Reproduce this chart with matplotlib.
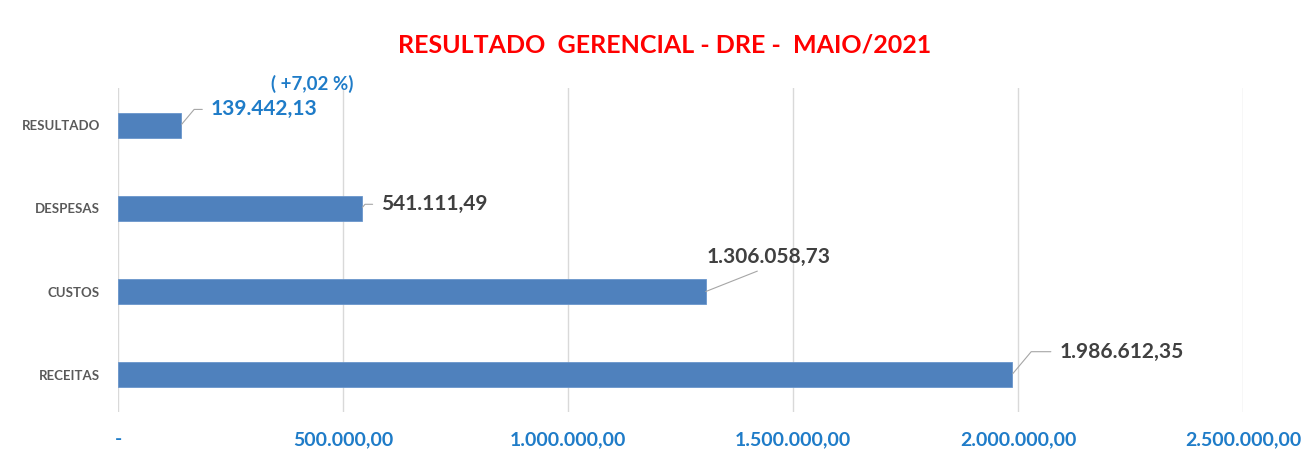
import matplotlib
matplotlib.use('Agg')
import matplotlib.pyplot as plt
from matplotlib.ticker import FuncFormatter

categories = ['RECEITAS', 'CUSTOS', 'DESPESAS', 'RESULTADO']
values = [1986612.35, 1306058.73, 541111.49, 139442.13]
value_labels = ['1.986.612,35', '1.306.058,73', '541.111,49', '139.442,13']
label_colors = ['#404040', '#404040', '#404040', '#1F7CC8']
percent_note = '( +7,02 %)'
xticks = [0, 500000, 1000000, 1500000, 2000000, 2500000]

# label offsets in points from bar end
label_offsets = [(34, 16.5), (45, 25), (14, 3), (21.5, 11.5)]


def br_fmt(v, pos=None):
    if v == 0:
        return '-'
    s = f'{v:,.2f}'
    return s.replace(',', 'X').replace('.', ',').replace('X', '.')


plt.rcParams['font.family'] = ['Lato', 'DejaVu Sans']

fig = plt.figure(figsize=(13.11, 4.54), dpi=100)
ax = fig.add_axes([118 / 1311, 42 / 454, 1125 / 1311, 324 / 454])

y = list(range(len(categories)))
ax.barh(y, values, height=0.3, color='#4F81BD', edgecolor='#6A96CC', linewidth=0.6, zorder=3)

ax.set_xlim(0, 2500000)
ax.set_ylim(-0.45, 3.45)
ax.set_xticks(xticks)
ax.xaxis.set_major_formatter(FuncFormatter(br_fmt))
ax.set_yticks(y)
ax.set_yticklabels(categories)
ax.grid(axis='x', color='#D9D9D9', linewidth=1, zorder=0)
for s in ax.spines.values():
    s.set_visible(False)
ax.tick_params(axis='x', length=0, pad=14, labelsize=14, labelcolor='#1F7CC8')
ax.tick_params(axis='y', length=0, pad=13, labelsize=9.5, labelcolor='#595959')
for t in ax.get_xticklabels():
    t.set_fontweight('bold')
for t in ax.get_yticklabels():
    t.set_fontweight('bold')

for i, (v, lab, c, off) in enumerate(zip(values, value_labels, label_colors, label_offsets)):
    dx, dy = off
    if lab == '1.306.058,73':
        ap = dict(arrowstyle='-', color='#A6A6A6', lw=0.8, shrinkA=3, shrinkB=0,
                  relpos=(0.5, 0), connectionstyle='arc3')
    else:
        ap = dict(arrowstyle='-', color='#A6A6A6', lw=0.8, shrinkA=4, shrinkB=1,
                  relpos=(0, 0.5), connectionstyle='angle,angleA=0,angleB=50,rad=0')
    ax.annotate(lab, xy=(v, i), xytext=(dx, dy), textcoords='offset points',
                ha='left' if lab != '1.306.058,73' else 'center', va='center',
                fontsize=15, color=c, fontweight='bold', arrowprops=ap)

ax.annotate(percent_note, xy=(values[3], 3), xytext=(65, 29.5), textcoords='offset points',
            ha='left', va='center', fontsize=13.5, color='#1F7CC8', fontweight='bold')

fig.text(0.507, 0.9, 'RESULTADO  GERENCIAL - DRE -  MAIO/2021', ha='center', va='center',
         fontsize=18, fontweight='bold', color='#FF0000')

fig.savefig('out.png', dpi=100)
